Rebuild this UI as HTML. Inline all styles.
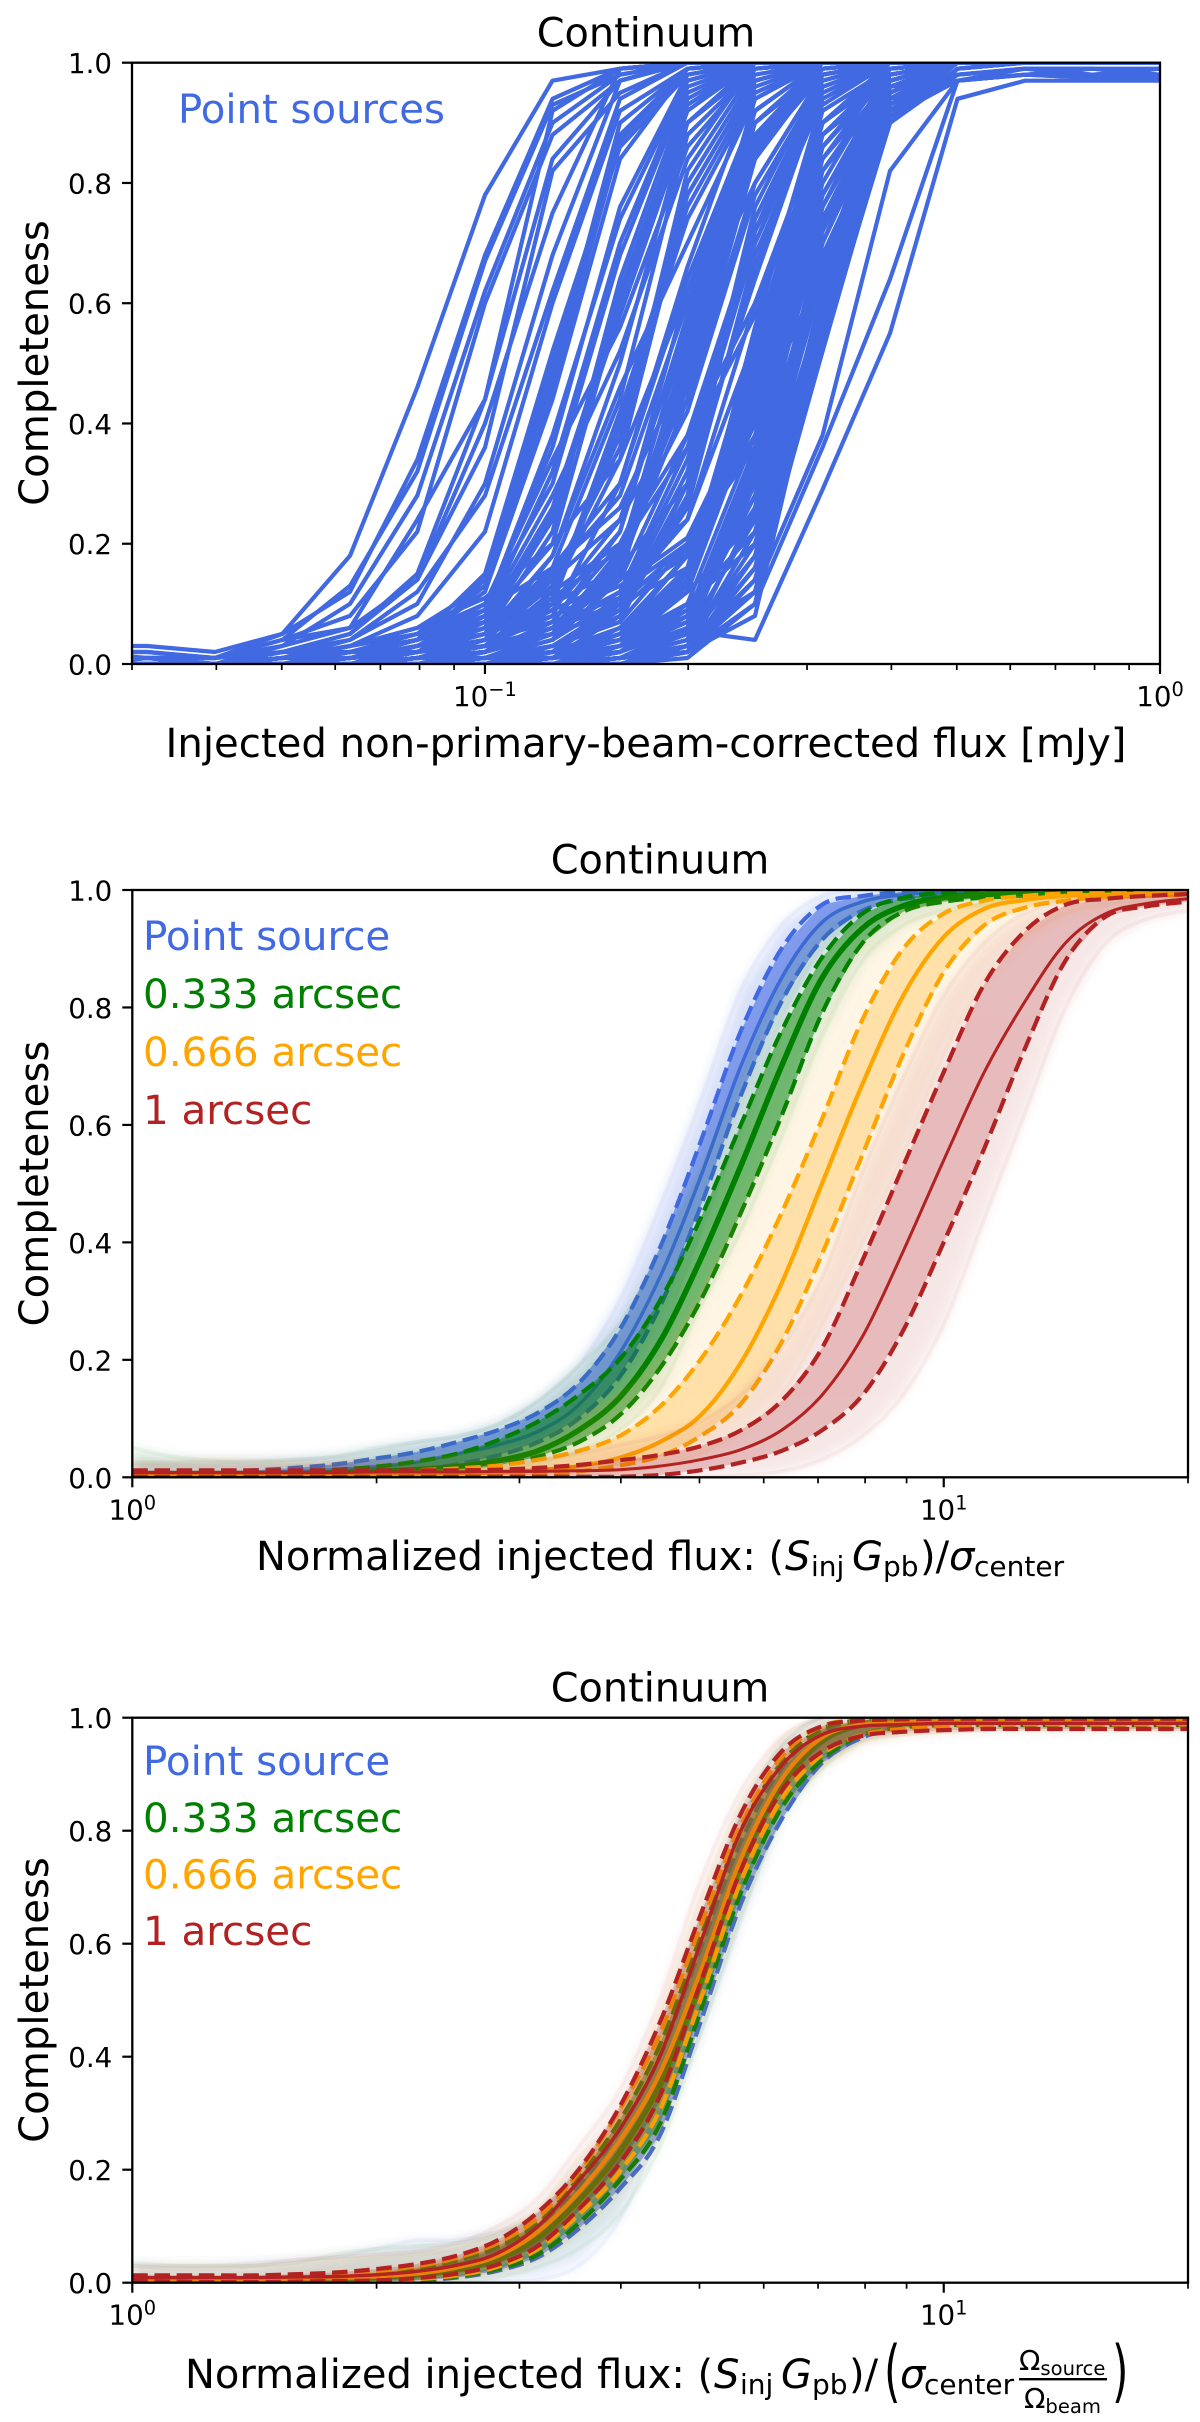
<!DOCTYPE html>
<html lang="en">
<head>
<meta charset="utf-8">
<title>Continuum completeness curves</title>
<style>
html,body{margin:0;padding:0;background:#fff}
svg{display:block}
text{font-family:"DejaVu Sans","Liberation Sans",sans-serif;fill:#000}
.it{font-style:italic}
</style>
</head>
<body>
<svg id="fig" xmlns="http://www.w3.org/2000/svg" width="1200" height="2422" viewBox="0 0 1200 2422">
<rect x="0" y="0" width="1200" height="2422" fill="#fff"/>
<defs>
<clipPath id="clip1"><rect x="132" y="62.7" width="1028" height="601.3"/></clipPath>
<clipPath id="clip2"><rect x="132.3" y="890" width="1055.7" height="587.3"/></clipPath>
<clipPath id="clip3"><rect x="132.3" y="1717.7" width="1055.7" height="565"/></clipPath>
<filter id="soft" x="-5%" y="-5%" width="110%" height="110%"><feGaussianBlur stdDeviation="6"/></filter>
</defs>
<g id="panel1"></g>
<g id="panel2"></g>
<g id="panel3"></g>

<text x="646" y="46.7" font-size="39.8" text-anchor="middle">Continuum</text>
<text x="660" y="873.5" font-size="39.8" text-anchor="middle">Continuum</text>
<text x="660" y="1701.5" font-size="39.8" text-anchor="middle">Continuum</text>

<text transform="translate(48,363) rotate(-90)" font-size="40.2" text-anchor="middle">Completeness</text>
<text transform="translate(48,1183.6) rotate(-90)" font-size="40.2" text-anchor="middle">Completeness</text>
<text transform="translate(48,2000) rotate(-90)" font-size="40.2" text-anchor="middle">Completeness</text>

<text x="178" y="123" font-size="40.2" style="fill:#4169e1">Point sources</text>

<text x="143" y="950" font-size="40.4" style="fill:#4169e1">Point source</text>
<text x="143" y="1008" font-size="40.4" style="fill:#008000">0.333 arcsec</text>
<text x="143" y="1066" font-size="40.4" style="fill:#ffa500">0.666 arcsec</text>
<text x="143" y="1124" font-size="40.4" style="fill:#b22222">1 arcsec</text>

<text x="143" y="1775" font-size="40.4" style="fill:#4169e1">Point source</text>
<text x="143" y="1832" font-size="40.4" style="fill:#008000">0.333 arcsec</text>
<text x="143" y="1888.5" font-size="40.4" style="fill:#ffa500">0.666 arcsec</text>
<text x="143" y="1945" font-size="40.4" style="fill:#b22222">1 arcsec</text>

<text x="646" y="757" font-size="40.2" text-anchor="middle">Injected non-primary-beam-corrected flux [mJy]</text>

<g font-size="40">
<text x="256" y="1570">Normalized injected flux: (</text>
<text class="it" x="785" y="1570">S</text>
<text x="811" y="1576" font-size="28">inj</text>
<text class="it" x="852" y="1570">G</text>
<text x="883" y="1576" font-size="28">pb</text>
<text x="920" y="1570">)/</text>
<text class="it" x="949" y="1570">σ</text>
<text x="974" y="1576" font-size="28">center</text>
</g>

<g font-size="40">
<text x="185" y="2388">Normalized injected flux: (</text>
<text class="it" x="714" y="2388">S</text>
<text x="740" y="2394" font-size="28">inj</text>
<text class="it" x="781" y="2388">G</text>
<text x="812" y="2394" font-size="28">pb</text>
<text x="849" y="2388">)/</text>
<text transform="translate(884,2394) scale(0.62,1)" font-size="68">(</text>
<text class="it" x="900" y="2388">σ</text>
<text x="924" y="2394" font-size="28">center</text>
<text x="1019" y="2370" font-size="28">Ω<tspan dy="5" font-size="19.6">source</tspan></text>
<rect x="1019" y="2378" width="88" height="2.4" fill="#000"/>
<text x="1024" y="2408" font-size="28">Ω<tspan dy="5" font-size="19.6">beam</tspan></text>
<text transform="translate(1112,2394) scale(0.62,1)" font-size="68">)</text>
</g>
</svg>

<script>
/* ---------- Panel 1 data: injected flux (mJy) and completeness (%) per field ---------- */
const fluxGrid = [0.0251,0.0316,0.0398,0.0501,0.0631,0.0794,0.1,0.1259,0.1585,0.1995,0.2512,0.3162,0.3981,0.5012,0.6310,0.7943,1.0];
const pointSourceCurves = [
[3,3,2,5,18,46,78,97,99,100,100,100,100,100,100,100,100],
[2,2,1,5,12,34,68,94,99,100,100,100,100,100,100,100,100],
[2,2,1,4,13,32,67,93,98,100,100,100,100,100,100,100,100],
[1,1,1,3,10,28,62,90,98,100,100,100,100,100,100,100,100],
[2,1,1,4,8,22,60,88,97,100,100,100,100,100,100,100,100],
[1,1,1,4,6,24,44,92,99,100,100,100,100,100,100,100,100],
[0,1,1,2,5,15,44,84,97,100,100,100,100,100,100,100,100],
[1,1,0,2,5,14,36,82,95,100,100,100,100,100,100,100,100],
[0,0,0,3,6,14,40,75,99,100,100,100,100,100,100,100,100],
[1,1,0,2,4,10,30,68,97,100,100,100,100,100,100,100,100],
[0,1,0,1,4,12,28,62,94,100,100,100,100,100,100,100,100],
[0,0,0,1,3,8,22,60,92,99,100,100,100,100,100,100,100],
[0,0,0,1,2,4,13,50,88,99,100,100,100,100,100,100,100],
[0,0,0,1,3,5,14,48,90,99,100,100,100,100,100,100,100],
[0,0,0,2,2,4,15,52,86,98,100,100,100,100,100,100,100],
[0,1,0,1,3,6,13,46,87,99,100,100,100,100,100,100,100],
[0,0,0,0,2,4,12,44,84,99,100,100,100,100,100,100,100],
[0,0,0,0,1,2,6,24,62,93,100,100,100,100,100,100,100],
[0,0,0,1,1,3,7,26,60,92,100,100,100,100,100,100,100],
[0,0,0,0,2,2,5,22,64,95,100,100,100,100,100,100,100],
[0,0,0,0,1,3,6,25,58,90,99,100,100,100,100,100,100],
[0,0,0,0,0,2,7,20,60,94,100,100,100,100,100,100,100],
[0,0,0,0,0,3,9,36,76,98,100,100,100,100,100,100,100],
[0,0,0,0,1,2,8,32,70,97,100,100,100,100,100,100,100],
[0,0,0,0,0,1,4,18,50,90,100,100,100,100,100,100,100],
[0,0,0,0,0,2,5,16,44,88,99,100,100,100,100,100,100],
[0,0,0,0,0,1,3,12,40,78,97,100,100,100,100,100,100],
[0,0,0,0,1,2,4,13,38,80,98,100,100,100,100,100,100],
[0,0,0,0,0,1,3,11,42,76,96,100,100,100,100,100,100],
[0,0,0,0,0,2,4,14,36,82,99,100,100,100,100,100,100],
[0,0,0,0,0,1,2,10,40,74,95,100,100,100,100,100,100],
[0,0,0,0,0,1,3,12,34,78,97,100,100,100,100,100,100],
[0,0,0,0,0,1,3,8,30,66,97,100,100,100,100,100,100],
[0,0,0,0,0,1,2,7,22,58,92,100,100,100,100,100,100],
[0,0,0,0,0,0,2,6,18,56,94,100,100,100,100,100,100],
[0,0,0,0,0,1,3,9,22,62,88,100,100,100,100,100,100],
[0,0,0,0,0,1,2,5,16,50,88,99,100,100,100,100,100],
[0,0,0,0,0,1,1,4,17,52,90,100,100,100,100,100,100],
[0,0,0,0,0,0,2,6,15,48,86,99,100,100,100,100,100],
[0,0,0,0,0,1,2,5,18,46,85,98,100,100,100,100,100],
[0,0,0,0,0,0,1,4,14,54,92,100,100,100,100,100,100],
[0,0,0,0,0,1,3,6,16,44,84,99,100,100,100,100,100],
[0,0,0,0,0,0,1,5,19,50,87,99,100,100,100,100,100],
[0,0,0,0,0,0,1,2,9,30,72,96,100,100,100,100,100],
[0,0,0,0,0,0,1,3,8,28,74,97,100,100,100,100,100],
[0,0,0,0,0,1,1,2,10,32,70,95,100,100,100,100,100],
[0,0,0,0,0,0,0,2,9,26,68,94,100,100,100,100,100],
[0,0,0,0,0,0,1,3,7,30,76,98,100,100,100,100,100],
[0,0,0,0,0,0,0,1,8,27,66,96,100,100,100,100,100],
[0,0,0,0,0,0,1,2,11,34,72,93,100,100,100,100,100],
[0,0,0,0,0,0,1,1,4,14,50,90,99,100,100,100,100],
[0,0,0,0,0,0,0,2,4,15,48,88,98,100,100,100,100],
[0,0,0,0,0,0,1,1,5,13,52,92,99,100,100,100,100],
[0,0,0,0,0,0,0,1,3,14,46,86,99,100,100,100,100],
[0,0,0,0,0,0,1,2,4,16,54,90,98,100,100,100,100],
[0,0,0,0,0,0,0,1,4,12,44,88,97,100,100,100,100],
[0,0,0,0,0,0,1,1,6,15,50,84,99,100,100,100,100],
[0,0,0,0,0,0,0,1,3,13,56,94,100,100,100,100,100],
[0,0,0,0,0,0,0,0,2,8,34,74,96,100,100,100,100],
[0,0,0,0,0,0,0,1,2,7,32,76,97,100,100,100,100],
[0,0,0,0,0,0,0,0,3,8,36,72,95,100,100,100,100],
[0,0,0,0,0,0,0,0,2,9,30,70,94,100,100,100,100],
[0,0,0,0,0,0,0,1,3,7,35,78,98,100,100,100,100],
[0,0,0,0,0,0,0,0,1,6,33,73,96,100,100,100,100],
[0,0,0,0,0,0,0,0,2,8,28,68,92,100,100,100,100],
[0,0,0,0,0,0,0,1,2,6,31,64,93,100,100,100,100],
[0,0,0,0,0,0,0,0,3,9,26,66,95,100,100,100,100],
[0,0,0,0,0,0,0,0,1,4,25,70,96,100,100,100,100],
[0,0,0,0,0,0,0,0,1,5,30,76,98,100,100,100,100],
[0,0,0,0,0,0,0,0,1,3,22,66,94,100,100,100,100],
[0,0,0,0,0,0,0,0,1,4,18,62,92,100,100,100,100],
[0,0,0,0,0,0,0,0,1,3,20,58,90,99,100,100,100],
[0,0,0,0,0,0,0,0,0,2,16,56,93,100,100,100,100],
[0,0,0,0,0,0,0,0,0,3,14,52,91,99,100,100,100],
[0,0,0,0,0,0,0,0,0,2,12,53,90,99,100,100,100],
[0,0,0,0,0,0,0,0,1,2,14,55,92,100,100,100,100],
[0,0,0,0,0,0,0,0,1,6,28,64,92,100,100,100,100],
[0,0,0,0,0,0,0,0,1,5,24,60,91,100,100,100,100],
[0,0,0,0,0,0,0,0,0,3,26,72,95,100,100,100,100],
[0,0,0,0,0,0,0,0,1,4,32,68,90,99,100,100,100],
[0,0,0,0,0,0,0,0,0,2,18,54,90,99,100,100,100],
[0,0,0,0,0,0,0,0,0,3,16,60,94,100,100,100,100],
[0,0,0,0,0,0,0,0,0,1,10,54,95,100,100,100,100],
[0,0,0,0,1,3,6,10,16,30,64,96,100,100,100,100,100],
[0,0,0,1,2,4,8,12,20,38,72,98,100,100,100,100,100],
[0,0,0,0,1,2,5,9,14,24,54,90,100,100,100,100,100],
[0,0,0,1,2,5,9,16,26,50,84,99,100,100,100,100,100],
[0,0,0,0,2,4,7,14,24,44,80,98,100,100,100,100,100],
[0,0,0,1,3,6,11,20,34,62,92,100,100,100,100,100,100],
[0,0,0,0,1,3,5,11,19,36,70,95,100,100,100,100,100],
[0,0,0,0,0,2,4,8,13,21,44,86,99,100,100,100,100],
[0,0,0,0,0,1,4,7,11,18,40,82,98,100,100,100,100],
[0,0,0,0,1,2,3,6,12,20,36,78,97,100,100,100,100],
[0,0,0,0,0,1,2,6,10,16,42,76,96,100,100,100,100],
[0,0,0,0,0,1,3,5,9,19,38,72,94,100,100,100,100],
[0,0,0,1,2,5,10,30,68,96,100,100,100,100,100,100,100],
[0,0,0,0,1,4,9,38,74,97,100,100,100,100,100,100,100],
[0,0,0,0,2,4,10,34,56,86,99,100,100,100,100,100,100],
[0,0,0,0,1,3,8,28,52,84,100,100,100,100,100,100,100],
[0,0,0,0,1,2,5,18,46,70,94,100,100,100,100,100,100],
[0,0,0,0,0,2,4,16,30,64,92,100,100,100,100,100,100],
[0,0,0,0,0,1,4,15,28,60,90,99,100,100,100,100,100],
[0,0,0,0,0,1,3,10,24,56,80,98,100,100,100,100,100],
[0,0,0,0,0,1,2,7,20,42,78,97,100,100,100,100,100],
[0,0,0,0,0,0,2,6,14,38,60,90,100,100,100,100,100],
[0,0,0,0,0,0,1,5,12,36,58,88,99,100,100,100,100],
[0,0,0,0,0,0,1,4,11,24,60,86,98,100,100,100,100],
[0,0,0,0,0,0,1,3,10,20,42,82,96,100,100,100,100],
[0,0,0,0,0,0,0,3,7,20,40,80,99,100,100,100,100],
[0,0,0,0,0,0,0,2,6,18,42,84,97,100,100,100,100],
[0,0,0,0,0,0,0,2,5,18,38,62,94,100,100,100,100],
[0,0,0,0,0,0,0,1,5,16,40,66,97,100,100,100,100],
[0,0,0,0,0,0,0,1,4,12,24,64,95,100,100,100,100],
[0,0,0,0,0,0,0,1,4,10,22,60,92,100,100,100,100],
[0,0,0,0,0,0,0,1,3,10,20,56,93,100,100,100,100],
[0,0,0,0,0,0,0,0,3,12,42,74,96,100,100,100,100],
[0,0,0,0,0,0,0,0,2,10,38,78,97,100,100,100,100],
[0,0,0,0,0,0,0,0,1,3,14,54,90,98,99,99,99],
[0,0,0,0,0,0,0,0,1,3,12,52,92,97,99,98,99],
[0,0,0,0,0,0,0,0,1,2,12,56,90,98,99,99,98],
[0,0,0,0,0,0,0,0,1,2,10,54,94,97,98,98,98],
[0,0,0,0,0,0,0,0,0,2,10,58,91,97,98,99,98],
[0,0,0,0,0,0,0,0,0,2,8,56,96,98,99,98,99],
[0,0,0,0,0,0,0,0,1,5,12,38,82,97,98,97.5,97.5],
[0,0,0,0,0,0,0,0,0,2,10,36,64,97,98,97.5,97.5],
[0,0,0,0,0,0,0,0,1,5.5,4,29,55,94,97,97,97]
];

/* ---------- Panels 2 and 3 shared x grid: normalized flux ---------- */
const snrGrid = [1,1.122,1.259,1.413,1.585,1.778,1.995,2.239,2.512,2.818,3.162,3.548,3.981,4.467,5.012,5.623,6.31,7.079,7.943,8.913,10,11.22,12.59,14.13,15.85,17.78,19.95];

/* ---------- Panel 2 completeness (%) ---------- */
const p2BlueMid = [.8,.8,.8,.8,1,1.3,1.8,2.6,4,5.5,7.8,12.3,21,34,51,70,85,94.5,98,99.2,99.6,99.8,99.8,99.9,99.9,99.9,99.9];
const p2BlueHi = [1,1,1,1.2,1.6,2.2,3.2,4.3,6,8,11,16,25,39,57,76,90,97.5,99,99.7,100,100,100,100,100,100,100];
const p2BlueLo = [.4,.4,.4,.4,.5,.6,.7,1.3,2.2,3.7,6,10,17,29,46,65,81,91.5,96.5,98.5,99,99.5,99.7,99.8,99.8,99.8,99.8];
const p2BlueOutHi = [2.5,2.5,2.5,2.8,3,3.5,4.5,6,7,9,13,19,30,46,64,83,94,99,100,100,100,100,100,100,100,100,100];
const p2BlueOutLo = [0,0,0,0,0,0,.2,.5,1,2,4,7.5,14,24,42,60,78,90,95,98,99,99.5,99.5,99.5,99.5,99.5,99.5];

const p2GreenMid = [.6,.6,.6,.6,.6,.7,1,1.3,1.8,2.8,4.5,8,13.5,23,37,53,70,85,93.5,97.3,98.7,99.2,99.5,99.5,99.5,99.5,99.5];
const p2GreenHi = [.8,.8,.8,.8,1,1.3,1.8,2.7,4,6.3,9.5,14,20,30,44,60,76,88.5,96,98.7,99.5,99.8,99.8,99.8,99.8,99.8,99.8];
const p2GreenLo = [.3,.3,.3,.3,.3,.3,.4,.6,1,2,3.5,6,10.5,18.5,30,45,61.5,79,91,96.3,98,98.7,99,99.2,99.3,99.3,99.3];
const p2GreenOutHi = [5,3.5,2.8,2.5,3,3.5,5,6,7,9,13,19,26,38,52,68,84,94,98,99.5,100,100,100,100,100,100,100];
const p2GreenOutLo = [0,0,0,0,0,0,.1,.3,.6,1.2,2.5,4.5,8,15,29,42,58,75,88,94,96.5,97.5,98.5,99,99,99,99];

const p2OrangeMid = [.5,.5,.5,.5,.5,.5,.6,.6,.7,.8,1.2,1.9,3.3,6,10.5,19.5,33,50,67,82,92,96.8,98.3,99,99.2,99.4,99.5];
const p2OrangeHi = [.9,.9,.9,.9,.9,1,1,1.2,1.5,2,3,4.5,7,12,20,31,45,61,78,90,96,98.2,99,99.4,99.5,99.6,99.7];
const p2OrangeLo = [.2,.2,.2,.2,.2,.2,.2,.2,.2,.3,.5,1,2,3.6,7,12.5,23,38,55,72,86,94,97,98.2,98.8,99,99.2];
const p2OrangeOutHi = [2.5,2.5,3,2.8,2.5,2.5,2.8,3,3.5,4.5,6,10,14,20,31,45,60,76,90,96,98.5,99.5,100,100,100,100,100];
const p2OrangeOutLo = [0,0,0,0,0,0,0,0,0,0,.2,.5,1,2,4,8,14,26,40,55,72,85,92,96,97.5,98,98.5];

const p2RedMid = [.8,.8,.8,.8,.8,.8,.9,.9,.9,1,1,1.1,1.3,1.9,3,4.7,8,14,24,38.5,54,69,81,91,96,97.7,98.5];
const p2RedHi = [1.2,1.2,1.2,1.2,1.2,1.2,1.2,1.2,1.2,1.3,1.6,2.1,2.9,3.8,5.3,8,13,22,37,53,69,84,93,97.5,98.5,99,99.3];
const p2RedLo = [.1,.1,.1,.1,.1,.1,.1,.1,.1,.1,.1,.1,.1,.4,1.2,2.5,4.5,8,14,25,40,56,73,88,95.5,97.2,98];
const p2RedOutHi = [2,2,2,2,2,2,2,2,2,2.5,3,4,5.5,7,9.5,14,22,34,52,68,82,91,96,98,99,99.5,99.7];
const p2RedOutLo = [0,0,0,0,0,0,0,0,0,0,0,0,0,0,.1,.3,1,3,7,14,26,44,62,80,91,95,96.5];

/* ---------- Panel 3 completeness (%) ---------- */
const p3BlueMid = [.6,.6,.6,.6,.6,.6,.8,1.2,2.1,3.8,7.2,13,21.5,33,52,73,87.5,95.5,98.6,99.4,99.6,99.6,99.6,99.6,99.6,99.6,99.6];
const p3BlueHi = [1,1,1,1,1,1.1,1.5,2.3,3.6,6,10,17,27,40,59,78,91,97.5,99.6,99.9,99.9,99.9,99.9,99.9,99.9,99.9,99.9];
const p3BlueLo = [.2,.2,.1,.1,.1,.1,.2,.4,.9,2.1,4.5,9.5,16.5,26,46,67,82,92,96.5,98.5,99,99,99,99,99,99,99];
const p3BlueOutHi = [3,3,3,3.5,4,4.5,6,7.5,7.5,9,12,20,30,44,64,83,95,100,100,100,100,100,100,100,100,100,100];
const p3BlueOutLo = [0,0,0,0,0,0,0,0,0,.3,.5,3,11,27,44,64,83,92,96.5,98.5,99,99,99,99,99,99,99];

const p3GreenMid = [.6,.6,.6,.6,.6,.7,.9,1.4,2.4,4.2,8,14.5,23,35,53,74,88,96,98.8,99.3,99.5,99.5,99.5,99.5,99.5,99.5,99.5];
const p3GreenHi = [1,1,1,1,1,1.2,1.7,2.6,4,6.4,10.5,18.5,28.5,42,61,80,92,98,99.6,99.8,99.8,99.8,99.8,99.8,99.8,99.8,99.8];
const p3GreenLo = [.2,.2,.1,.1,.1,.2,.3,.5,1.1,2.4,5,10.5,18,28,48,69,84,92.5,97,98.3,98.7,98.7,98.7,98.7,98.7,98.7,98.7];
const p3GreenOutHi = [3.5,3,3,3,3.5,5,6,6.5,7,8.5,12,20,28,44,64,83,95,100,100,100,100,100,100,100,100,100,100];
const p3GreenOutLo = [0,0,0,0,0,0,0,.1,.3,1,2.8,6,12,24,44,65,82,91,96,97.5,98,98,98,98,98,98,98];

const p3OrangeMid = [.6,.6,.6,.6,.7,.8,1.1,1.6,2.7,4.7,9,16,25,37,55,75,89,96.5,98.8,99.2,99.4,99.5,99.5,99.5,99.5,99.5,99.5];
const p3OrangeHi = [1,1,1,1,1.1,1.4,2,2.9,4.4,7,11.5,19.5,30.5,44,63,81,93,98.5,99.6,99.8,99.8,99.8,99.8,99.8,99.8,99.8,99.8];
const p3OrangeLo = [.2,.2,.1,.1,.1,.2,.4,.6,1.3,2.8,6,12,19.5,30.5,50,71,85.5,93.5,97,98,98.5,98.7,98.8,98.8,98.8,98.8,98.8];
const p3OrangeOutHi = [2.5,3,3,3,3.5,4,4.5,5,6,9,13,22,30,48,68,85,96,100,100,100,100,100,100,100,100,100,100];
const p3OrangeOutLo = [0,0,0,0,0,0,.1,.3,.7,1.8,4,9,16,26,46,66,83,91,95.5,97,97.5,98,98,98,98,98,98];

const p3RedMid = [.9,.9,.9,.9,1,1.1,1.4,2,3.1,5.2,10,18,27,40,60,80,91.5,97,98.5,98.8,99,99,99,99,99,99,99];
const p3RedHi = [1.3,1.3,1.3,1.3,1.5,1.8,2.4,3.3,4.8,7.5,12.5,20,31,46,65,83,94,98.5,99.5,99.7,99.8,99.8,99.8,99.8,99.8,99.8,99.8];
const p3RedLo = [.3,.2,.1,.1,.2,.3,.4,.8,1.6,3.2,6.5,13,21,33,53,73,87,94,96.8,97.5,97.8,98,98,98,98,98,98];
const p3RedOutHi = [3,2.5,2.5,3,4,4.5,5,5.5,7,10,15,24,34,50,71,87,96.5,100,100,100,100,100,100,100,100,100,100];
const p3RedOutLo = [0,0,0,0,0,.1,.2,.5,1,2.2,5,10,18,28,50,71,85,92,96,97,97.5,97.8,98,98,98,98,98];

/* ---------- Tick values ---------- */
const yTickValues = [0,20,40,60,80,100];
const yTickLabels = ["0.0","0.2","0.4","0.6","0.8","1.0"];
const p1MajorTicks = [0.1,1];
const p1MajorLabels = ["\u22121","0"];
const p1MinorTicks = [0.03,0.04,0.05,0.06,0.07,0.08,0.09,0.2,0.3,0.4,0.5,0.6,0.7,0.8,0.9];
const p23MajorTicks = [1,10];
const p23MajorLabels = ["0","1"];
const p23MinorTicks = [2,3,4,5,6,7,8,9,20];

/* ---------- Rendering ---------- */
const NS = "http://www.w3.org/2000/svg";
function make(parent, tag, attrs) {
  const node = document.createElementNS(NS, tag);
  for (const k in attrs) node.setAttribute(k, attrs[k]);
  parent.appendChild(node);
  return node;
}
function scaleX(ax, v) {
  const a = Math.log10(ax.xmin), b = Math.log10(ax.xmax);
  return ax.left + (Math.log10(v) - a) / (b - a) * (ax.right - ax.left);
}
function scaleY(ax, c) {
  return ax.bottom - c / 100 * (ax.bottom - ax.top);
}
function smoothPath(ax, xs, ys) {
  const p = xs.map((x, i) => [scaleX(ax, x), scaleY(ax, ys[i])]);
  let d = "M" + p[0][0].toFixed(1) + " " + p[0][1].toFixed(1);
  for (let i = 0; i < p.length - 1; i++) {
    const p0 = p[Math.max(i - 1, 0)], p1 = p[i], p2 = p[i + 1], p3 = p[Math.min(i + 2, p.length - 1)];
    const c1x = p1[0] + (p2[0] - p0[0]) / 6, c1y = p1[1] + (p2[1] - p0[1]) / 6;
    const c2x = p2[0] - (p3[0] - p1[0]) / 6, c2y = p2[1] - (p3[1] - p1[1]) / 6;
    d += "C" + c1x.toFixed(1) + " " + c1y.toFixed(1) + " " + c2x.toFixed(1) + " " + c2y.toFixed(1) + " " + p2[0].toFixed(1) + " " + p2[1].toFixed(1);
  }
  return d;
}
function bandPoints(ax, xs, hi, lo) {
  const pts = [];
  xs.forEach((x, i) => pts.push(scaleX(ax, x).toFixed(1) + "," + scaleY(ax, hi[i]).toFixed(1)));
  for (let i = xs.length - 1; i >= 0; i--) pts.push(scaleX(ax, xs[i]).toFixed(1) + "," + scaleY(ax, lo[i]).toFixed(1));
  return pts.join(" ");
}
function drawAxes(root, ax, prefix, majors, majorLabels, minors) {
  const frame = make(root, "rect", {x: ax.left, y: ax.top, width: ax.right - ax.left, height: ax.bottom - ax.top, fill: "none", stroke: "#000", "stroke-width": 2.3});
  
  
  yTickValues.forEach((v, i) => {
    const y = scaleY(ax, v);
    const t = make(root, "line", {x1: ax.left - 10, x2: ax.left, y1: y, y2: y, stroke: "#000", "stroke-width": 2.2});
    
    
    const l = make(root, "text", {x: ax.left - 20, y: y + 10.5, "font-size": 27.7, "text-anchor": "end"});
    l.textContent = yTickLabels[i];
    
    
  });
  minors.forEach(v => {
    const x = scaleX(ax, v);
    const t = make(root, "line", {x1: x, x2: x, y1: ax.bottom, y2: ax.bottom + 6, stroke: "#000", "stroke-width": 1.7});
    
    
  });
  majors.forEach((v, i) => {
    const x = scaleX(ax, v);
    const t = make(root, "line", {x1: x, x2: x, y1: ax.bottom, y2: ax.bottom + 10, stroke: "#000", "stroke-width": 2.2});
    
    
    const l = make(root, "text", {x: x, y: ax.bottom + 42, "font-size": 27.7, "text-anchor": "middle"});
    l.textContent = "10";
    const s = make(l, "tspan", {dy: -10, "font-size": 19.4});
    s.textContent = majorLabels[i];
    
    
  });
}
function drawGroup(root, ax, prefix, g) {
  const outer = make(root, "polygon", {points: bandPoints(ax, snrGrid, g.outHi, g.outLo), fill: g.color, opacity: g.outerOp, filter: "url(#soft)"});
  
  
  [g.outHi, g.outLo].forEach(vals => {
    const f = make(root, "path", {d: smoothPath(ax, snrGrid, vals), fill: "none", stroke: g.color, "stroke-width": 4, opacity: 0.05});
    
    
  });
  const inner = make(root, "polygon", {points: bandPoints(ax, snrGrid, g.hi, g.lo), fill: g.color, opacity: g.innerOp});
  
  
  const m = make(root, "path", {d: smoothPath(ax, snrGrid, g.mid), fill: "none", stroke: g.color, "stroke-width": g.lw});
  
  
  const a = make(root, "path", {d: smoothPath(ax, snrGrid, g.hi), fill: "none", stroke: g.color, "stroke-width": 4.2, "stroke-dasharray": "15.5 6.7"});
  
  
  const b = make(root, "path", {d: smoothPath(ax, snrGrid, g.lo), fill: "none", stroke: g.color, "stroke-width": 4.2, "stroke-dasharray": "15.5 6.7"});
  
  
}

const ax1 = {left: 132, right: 1160, top: 62.7, bottom: 664, xmin: 0.03, xmax: 1};
const ax2 = {left: 132.3, right: 1188, top: 890, bottom: 1477.3, xmin: 1, xmax: 20};
const ax3 = {left: 132.3, right: 1188, top: 1717.7, bottom: 2282.7, xmin: 1, xmax: 20};

/* Panel 1 */
const root1 = document.getElementById("panel1");
const lines1 = make(root1, "g", {"clip-path": "url(#clip1)"});


pointSourceCurves.forEach(vals => {
  const pts = vals.map((c, i) => scaleX(ax1, fluxGrid[i]).toFixed(1) + "," + scaleY(ax1, c).toFixed(1)).join(" ");
  const ln = make(lines1, "polyline", {points: pts, fill: "none", stroke: "#4169e1", "stroke-width": 4.2, "stroke-linejoin": "round"});
  
  
});
drawAxes(root1, ax1, "panel1", p1MajorTicks, p1MajorLabels, p1MinorTicks);

/* Panel 2 */
const groups2 = [
  {key: "point-source", color: "#4169e1", lw: 3.5, innerOp: 0.58, outerOp: 0.2, mid: p2BlueMid, hi: p2BlueHi, lo: p2BlueLo, outHi: p2BlueOutHi, outLo: p2BlueOutLo},
  {key: "0333-arcsec", color: "#008000", lw: 5.6, innerOp: 0.5, outerOp: 0.12, mid: p2GreenMid, hi: p2GreenHi, lo: p2GreenLo, outHi: p2GreenOutHi, outLo: p2GreenOutLo},
  {key: "0666-arcsec", color: "#ffa500", lw: 4.2, innerOp: 0.26, outerOp: 0.1, mid: p2OrangeMid, hi: p2OrangeHi, lo: p2OrangeLo, outHi: p2OrangeOutHi, outLo: p2OrangeOutLo},
  {key: "1-arcsec", color: "#b22222", lw: 3, innerOp: 0.22, outerOp: 0.1, mid: p2RedMid, hi: p2RedHi, lo: p2RedLo, outHi: p2RedOutHi, outLo: p2RedOutLo}
];
const root2 = document.getElementById("panel2");
const lines2 = make(root2, "g", {"clip-path": "url(#clip2)"});


groups2.forEach(g => drawGroup(lines2, ax2, "panel2", g));
drawAxes(root2, ax2, "panel2", p23MajorTicks, p23MajorLabels, p23MinorTicks);

/* Panel 3 */
const groups3 = [
  {key: "point-source", color: "#4169e1", lw: 3.5, innerOp: 0.5, outerOp: 0.1, mid: p3BlueMid, hi: p3BlueHi, lo: p3BlueLo, outHi: p3BlueOutHi, outLo: p3BlueOutLo},
  {key: "0333-arcsec", color: "#008000", lw: 5.6, innerOp: 0.42, outerOp: 0.08, mid: p3GreenMid, hi: p3GreenHi, lo: p3GreenLo, outHi: p3GreenOutHi, outLo: p3GreenOutLo},
  {key: "0666-arcsec", color: "#ffa500", lw: 4.2, innerOp: 0.24, outerOp: 0.08, mid: p3OrangeMid, hi: p3OrangeHi, lo: p3OrangeLo, outHi: p3OrangeOutHi, outLo: p3OrangeOutLo},
  {key: "1-arcsec", color: "#b22222", lw: 3.4, innerOp: 0.22, outerOp: 0.06, mid: p3RedMid, hi: p3RedHi, lo: p3RedLo, outHi: p3RedOutHi, outLo: p3RedOutLo}
];
const root3 = document.getElementById("panel3");
const lines3 = make(root3, "g", {"clip-path": "url(#clip3)"});


groups3.forEach(g => drawGroup(lines3, ax3, "panel3", g));
drawAxes(root3, ax3, "panel3", p23MajorTicks, p23MajorLabels, p23MinorTicks);
</script>
</body>
</html>
